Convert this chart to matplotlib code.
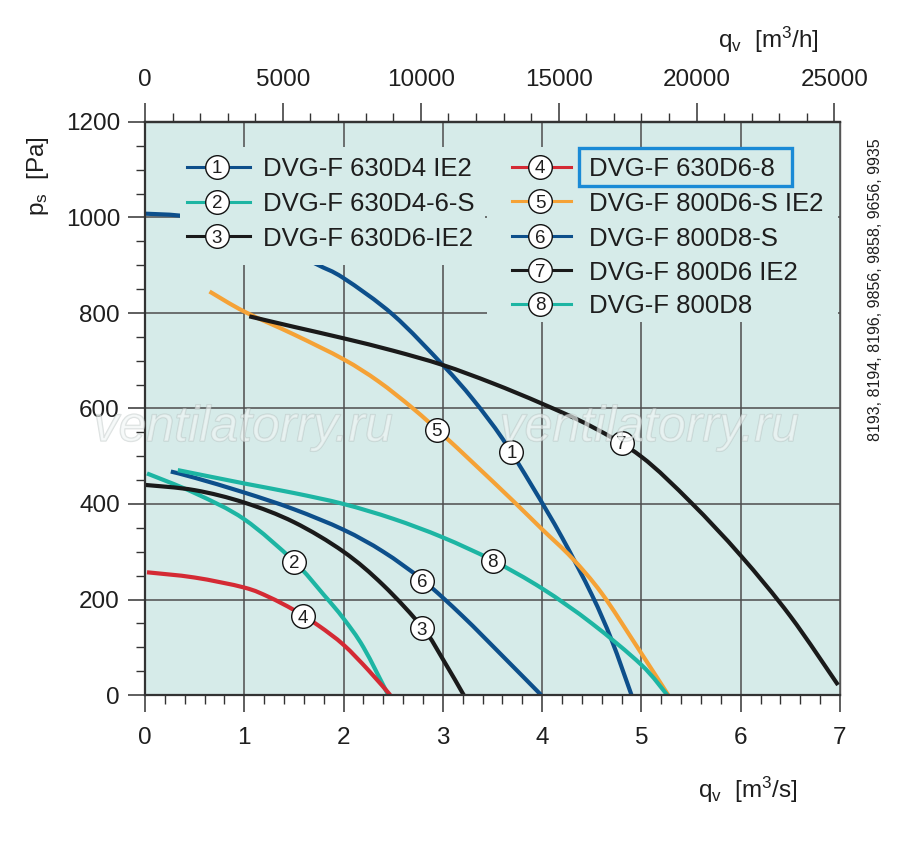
import matplotlib
matplotlib.use("Agg")
import matplotlib.pyplot as plt
from matplotlib.ticker import MultipleLocator, FixedLocator
from matplotlib.patches import Rectangle, PathPatch
from matplotlib.path import Path
import matplotlib.patheffects as pe

plt.rcParams['font.family'] = ['Liberation Sans', 'DejaVu Sans']
plt.rcParams['mathtext.fontset'] = 'custom'
plt.rcParams['mathtext.rm'] = 'Liberation Sans'
plt.rcParams['mathtext.it'] = 'Liberation Sans:italic'
plt.rcParams['mathtext.default'] = 'regular'

# ---------------- data (q in m3/s, p in Pa) ----------------
q1 = [0.0, 0.35, 0.8, 1.2, 1.71, 2.0, 2.5, 3.0, 3.3, 3.6, 3.9, 4.2, 4.5, 4.7, 4.9]
p1 = [1008, 1004, 990, 960, 904, 873, 796, 691, 620, 537, 437, 330, 210, 115, 0]

q2 = [0.02, 0.5, 1.0, 1.5, 1.8, 2.0, 2.2, 2.45]
p2 = [464, 423, 368, 280, 210, 160, 100, 0]

q3 = [0.0, 0.5, 1.0, 1.5, 2.0, 2.4, 2.8, 3.0, 3.21]
p3 = [440, 429, 403, 362, 300, 230, 140, 75, 0]

q4 = [0.02, 0.5, 1.0, 1.25, 1.5, 1.75, 2.0, 2.25, 2.47]
p4 = [257, 246, 225, 205, 178, 145, 105, 52, 0]

q5 = [0.65, 1.0, 1.5, 2.0, 2.35, 2.7, 3.0, 3.3, 3.7, 4.0, 4.3, 4.6, 4.95, 5.27]
p5 = [845, 803, 755, 703, 657, 600, 545, 487, 408, 347, 287, 213, 103, 0]

q6 = [0.26, 0.5, 1.0, 1.5, 2.0, 2.4, 2.8, 3.2, 3.6, 3.99]
p6 = [468, 455, 424, 389, 346, 300, 240, 165, 82, 0]

q7 = [1.05, 1.5, 2.0, 2.5, 3.0, 3.5, 4.0, 4.5, 5.0, 5.5, 6.0, 6.5, 6.98]
p7 = [793, 771, 747, 721, 691, 653, 610, 562, 499, 403, 292, 165, 21]

q8 = [0.33, 1.0, 1.5, 2.0, 2.5, 3.0, 3.5, 4.0, 4.5, 5.0, 5.26]
p8 = [471, 443, 423, 400, 369, 330, 282, 223, 150, 63, 0]

curve_ids = ['1', '2', '3', '4', '5', '6', '7', '8']
curve_names = ['DVG-F 630D4 IE2', 'DVG-F 630D4-6-S', 'DVG-F 630D6-IE2', 'DVG-F 630D6-8',
               'DVG-F 800D6-S IE2', 'DVG-F 800D8-S', 'DVG-F 800D6 IE2', 'DVG-F 800D8']
curve_colors = ['#0d4f8b', '#1db5a3', '#1a1a1a', '#d42a34', '#f5a236', '#0d4f8b', '#1a1a1a', '#1db5a3']
label_q = [3.69, 1.50, 2.79, 1.59, 2.94, 2.79, 4.80, 3.50]
label_p = [509, 279, 140, 165, 555, 239, 528, 281]

x_ticks = [0, 1, 2, 3, 4, 5, 6, 7]
y_ticks = [0, 200, 400, 600, 800, 1000, 1200]
top_ticks = [0, 5000, 10000, 15000, 20000, 25000]

curves = [(q1, p1), (q2, p2), (q3, p3), (q4, p4), (q5, p5), (q6, p6), (q7, p7), (q8, p8)]

BG = '#d6ebe9'
GRID = '#4d4d4d'
TXT = '#1e1e1e'


def smooth_path(q, p):
    """Bezier path (Catmull-Rom style) passing through the given points."""
    pts = list(zip(q, p))
    n = len(pts)
    verts = [pts[0]]
    codes = [Path.MOVETO]
    for i in range(n - 1):
        p0 = pts[i - 1] if i > 0 else pts[i]
        p1_ = pts[i]
        p2_ = pts[i + 1]
        p3_ = pts[i + 2] if i + 2 < n else pts[i + 1]
        c1 = (p1_[0] + (p2_[0] - p0[0]) / 6.0, p1_[1] + (p2_[1] - p0[1]) / 6.0)
        c2 = (p2_[0] - (p3_[0] - p1_[0]) / 6.0, p2_[1] - (p3_[1] - p1_[1]) / 6.0)
        verts += [c1, c2, p2_]
        codes += [Path.CURVE4, Path.CURVE4, Path.CURVE4]
    return Path(verts, codes)


fig = plt.figure(figsize=(9, 8.47), dpi=100)
ax = fig.add_axes([145/900, 152/847, 695/900, 573/847])
ax.set_facecolor(BG)
ax.set_xlim(0, 7)
ax.set_ylim(0, 1200)

ax.xaxis.set_major_locator(FixedLocator(x_ticks))
ax.yaxis.set_major_locator(FixedLocator(y_ticks))
ax.xaxis.set_minor_locator(MultipleLocator(0.2))
ax.yaxis.set_minor_locator(MultipleLocator(50))
ax.tick_params(axis='both', which='major', direction='out', length=12.5, width=1.1,
               color='#333333', labelsize=17.5, labelcolor=TXT)
ax.tick_params(axis='both', which='minor', direction='out', length=6.5, width=1.0, color='#333333')
ax.tick_params(axis='x', which='major', pad=10.5)
ax.tick_params(axis='y', which='major', pad=5.5)

for s in ['left', 'bottom', 'top']:
    ax.spines[s].set_linewidth(1.6)
    ax.spines[s].set_color('#333333')
ax.spines['right'].set_linewidth(1.0)
ax.spines['right'].set_color('#555555')

ax.grid(True, which='major', color=GRID, linewidth=1.1, zorder=0)
ax.set_axisbelow(True)

# curves
for (q, p), c in zip(curves, curve_colors):
    ax.add_patch(PathPatch(smooth_path(q, p), facecolor='none', edgecolor=c, lw=3.0,
                           capstyle='butt', zorder=2))

# legend cover boxes
ax.add_patch(Rectangle((0.0504, 0.7504), 0.4388, 0.206, transform=ax.transAxes,
                       facecolor=BG, edgecolor='none', zorder=3))
ax.add_patch(Rectangle((0.4920, 0.651), 0.505, 0.3054, transform=ax.transAxes,
                       facecolor=BG, edgecolor='none', zorder=3))

# curve labels
for i in range(8):
    ax.plot(label_q[i], label_p[i], 'o', ms=17, mfc='white', mec='#111111', mew=1.0, zorder=5)
    ax.text(label_q[i], label_p[i], curve_ids[i], ha='center', va='center_baseline',
            fontsize=13.5, color=TXT, zorder=6)

# legend entries
left_rows = [0.9215, 0.8604, 0.801]
right_rows = [0.9215, 0.8621, 0.801, 0.7417, 0.6824]
for i in range(8):
    if i < 3:
        y = left_rows[i]; x0, x1, xc, xt = 0.0604, 0.151, 0.1036, 0.1698
    else:
        y = right_rows[i-3]; x0, x1, xc, xt = 0.528, 0.613, 0.5683, 0.6388
    ax.plot([x0, x1], [y, y], color=curve_colors[i], lw=2.2, transform=ax.transAxes, zorder=4)
    ax.plot(xc, y, 'o', ms=17, mfc='white', mec='#111111', mew=1.0,
            transform=ax.transAxes, zorder=5)
    ax.text(xc, y, curve_ids[i], ha='center', va='center_baseline', fontsize=13.5,
            color=TXT, transform=ax.transAxes, zorder=6)
    ax.text(xt, y, curve_names[i], ha='left', va='center_baseline', fontsize=18.5,
            color=TXT, transform=ax.transAxes, zorder=6)

# highlight box
ax.add_patch(Rectangle((0.6249, 0.8883), 0.3056, 0.0658, transform=ax.transAxes,
                       facecolor='none', edgecolor='#1a8ad6', lw=2.4, zorder=7))

# top axis in m3/h
top = ax.secondary_xaxis('top', functions=(lambda x: x*3600.0, lambda x: x/3600.0))
top.xaxis.set_major_locator(FixedLocator(top_ticks))
top.xaxis.set_minor_locator(MultipleLocator(1000))
top.tick_params(axis='x', which='major', direction='out', length=13.5, width=1.1,
                color='#333333', labelsize=17.5, labelcolor=TXT, pad=9)
top.tick_params(axis='x', which='minor', direction='out', length=6.5, width=1.0, color='#333333')
top.spines['top'].set_linewidth(1.6)
top.spines['top'].set_color('#333333')

# watermark
for xc_px in [243, 649]:
    fig.text(xc_px / 900, 1 - 428/847, 'ventilatorry.ru', ha='center', va='center',
             fontsize=36, style='italic', color='#f2f7f6', alpha=0.4,
             path_effects=[pe.withStroke(linewidth=1.0, foreground='#aab4b3')], zorder=10)

# axis labels
fig.text(748/900, 1 - 790/847, r'q$_{v}$  [m$^{3}$/s]', ha='center', va='center',
         fontsize=17.5, color=TXT)
fig.text(768/900, 1 - 40/847, r'q$_{v}$  [m$^{3}$/h]', ha='center', va='center',
         fontsize=17.5, color=TXT)
fig.text(38/900, 1 - 176/847, r'p$_{s}$  [Pa]', ha='center', va='center',
         fontsize=17.5, color=TXT, rotation=90)
fig.text(876/900, 1 - 290/847, '8193, 8194, 8196, 9856, 9858, 9656, 9935', ha='center',
         va='center', fontsize=11.5, color=TXT, rotation=90)

fig.savefig('out.png', dpi=100, facecolor='white')
